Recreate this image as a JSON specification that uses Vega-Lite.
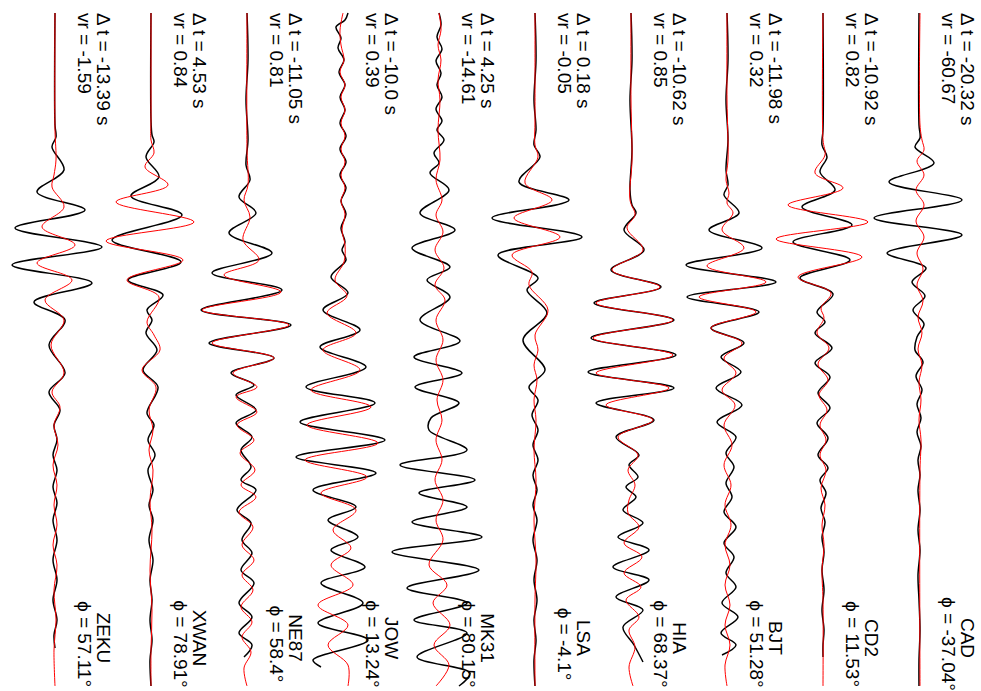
{
"$schema":"https://vega.github.io/schema/vega-lite/v6.json",
"padding":{"left":0,"top":0,"right":22,"bottom":0},
"background":"white",
"bounds":"flush",
"config":{"view":{"stroke":null},"facet":{"spacing":0}},
"spacing":0,
"data":{"values":[
{"s":"CAD","c":"L","dt":"Δ t = -20.32 s","vr":"vr = -60.67","nm":"CAD","ph":"ϕ = -37.04°"},
{"s":"CD2","c":"L","dt":"Δ t = -10.92 s","vr":"vr = 0.82","nm":"CD2","ph":"ϕ = 11.53°"},
{"s":"BJT","c":"L","dt":"Δ t = -11.98 s","vr":"vr = 0.32","nm":"BJT","ph":"ϕ = 51.28°"},
{"s":"HIA","c":"L","dt":"Δ t = -10.62 s","vr":"vr = 0.85","nm":"HIA","ph":"ϕ = 68.37°"},
{"s":"LSA","c":"L","dt":"Δ t = 0.18 s","vr":"vr = -0.05","nm":"LSA","ph":"ϕ = -4.1°"},
{"s":"MK31","c":"L","dt":"Δ t = 4.25 s","vr":"vr = -14.61","nm":"MK31","ph":"ϕ = 80.15°"},
{"s":"JOW","c":"L","dt":"Δ t = -10.0 s","vr":"vr = 0.39","nm":"JOW","ph":"ϕ = 13.24°"},
{"s":"NE87","c":"L","dt":"Δ t = -11.05 s","vr":"vr = 0.81","nm":"NE87","ph":"ϕ = 58.4°"},
{"s":"XWAN","c":"L","dt":"Δ t = 4.53 s","vr":"vr = 0.84","nm":"XWAN","ph":"ϕ = 78.91°"},
{"s":"ZEKU","c":"L","dt":"Δ t = -13.39 s","vr":"vr = -1.59","nm":"ZEKU","ph":"ϕ = 57.11°"},
{"s":"CAD","c":"k","t":13,"a":0},{"s":"CAD","c":"k","t":125,"a":0},{"s":"CAD","c":"k","t":138,"a":1},{"s":"CAD","c":"k","t":147,"a":-4},{"s":"CAD","c":"k","t":163,"a":15},{"s":"CAD","c":"k","t":182,"a":-30},{"s":"CAD","c":"k","t":200,"a":43},{"s":"CAD","c":"k","t":218,"a":-45},{"s":"CAD","c":"k","t":235,"a":43},{"s":"CAD","c":"k","t":253,"a":-32},{"s":"CAD","c":"k","t":268,"a":7},{"s":"CAD","c":"k","t":282,"a":-7},{"s":"CAD","c":"k","t":296,"a":6},{"s":"CAD","c":"k","t":310,"a":-6},{"s":"CAD","c":"k","t":324,"a":5},{"s":"CAD","c":"k","t":337,"a":-2},{"s":"CAD","c":"k","t":350,"a":-4},{"s":"CAD","c":"k","t":362,"a":4},{"s":"CAD","c":"k","t":376,"a":-3},{"s":"CAD","c":"k","t":390,"a":3},{"s":"CAD","c":"k","t":404,"a":-2},{"s":"CAD","c":"k","t":418,"a":2},{"s":"CAD","c":"k","t":432,"a":-2},{"s":"CAD","c":"k","t":446,"a":2},{"s":"CAD","c":"k","t":460,"a":-1},{"s":"CAD","c":"k","t":475,"a":1},{"s":"CAD","c":"k","t":490,"a":-1},{"s":"CAD","c":"k","t":510,"a":1},{"s":"CAD","c":"k","t":530,"a":-1},{"s":"CAD","c":"k","t":550,"a":1},{"s":"CAD","c":"k","t":575,"a":-1},{"s":"CAD","c":"k","t":600,"a":0},{"s":"CAD","c":"k","t":630,"a":1},{"s":"CAD","c":"k","t":660,"a":0},{"s":"CAD","c":"k","t":686,"a":0},
{"s":"CAD","c":"r","t":13,"a":1},{"s":"CAD","c":"r","t":125,"a":1},{"s":"CAD","c":"r","t":140,"a":3},{"s":"CAD","c":"r","t":150,"a":5},{"s":"CAD","c":"r","t":161,"a":-2},{"s":"CAD","c":"r","t":175,"a":5},{"s":"CAD","c":"r","t":190,"a":-3},{"s":"CAD","c":"r","t":205,"a":5},{"s":"CAD","c":"r","t":221,"a":-3},{"s":"CAD","c":"r","t":237,"a":5},{"s":"CAD","c":"r","t":253,"a":-2},{"s":"CAD","c":"r","t":269,"a":4},{"s":"CAD","c":"r","t":285,"a":-2},{"s":"CAD","c":"r","t":301,"a":4},{"s":"CAD","c":"r","t":317,"a":-1},{"s":"CAD","c":"r","t":333,"a":3},{"s":"CAD","c":"r","t":349,"a":-1},{"s":"CAD","c":"r","t":365,"a":3},{"s":"CAD","c":"r","t":382,"a":0},{"s":"CAD","c":"r","t":400,"a":2},{"s":"CAD","c":"r","t":420,"a":0},{"s":"CAD","c":"r","t":440,"a":2},{"s":"CAD","c":"r","t":470,"a":1},{"s":"CAD","c":"r","t":686,"a":1},
{"s":"CD2","c":"k","t":13,"a":0},{"s":"CD2","c":"k","t":130,"a":0},{"s":"CD2","c":"k","t":145,"a":-1},{"s":"CD2","c":"k","t":157,"a":4},{"s":"CD2","c":"k","t":172,"a":-3},{"s":"CD2","c":"k","t":190,"a":12},{"s":"CD2","c":"k","t":207,"a":-21},{"s":"CD2","c":"k","t":225,"a":29},{"s":"CD2","c":"k","t":242,"a":-30},{"s":"CD2","c":"k","t":260,"a":27},{"s":"CD2","c":"k","t":278,"a":-23},{"s":"CD2","c":"k","t":294,"a":10},{"s":"CD2","c":"k","t":312,"a":-6},{"s":"CD2","c":"k","t":322,"a":2},{"s":"CD2","c":"k","t":333,"a":-8},{"s":"CD2","c":"k","t":348,"a":9},{"s":"CD2","c":"k","t":363,"a":-8},{"s":"CD2","c":"k","t":377,"a":7},{"s":"CD2","c":"k","t":393,"a":-5},{"s":"CD2","c":"k","t":408,"a":7},{"s":"CD2","c":"k","t":423,"a":-6},{"s":"CD2","c":"k","t":438,"a":5},{"s":"CD2","c":"k","t":455,"a":-5},{"s":"CD2","c":"k","t":468,"a":5},{"s":"CD2","c":"k","t":480,"a":-3},{"s":"CD2","c":"k","t":493,"a":3},{"s":"CD2","c":"k","t":508,"a":-2},{"s":"CD2","c":"k","t":522,"a":2},{"s":"CD2","c":"k","t":537,"a":-1},{"s":"CD2","c":"k","t":552,"a":1},{"s":"CD2","c":"k","t":570,"a":-1},{"s":"CD2","c":"k","t":590,"a":1},{"s":"CD2","c":"k","t":610,"a":-1},{"s":"CD2","c":"k","t":630,"a":1},{"s":"CD2","c":"k","t":645,"a":0},{"s":"CD2","c":"k","t":657,"a":0},
{"s":"CD2","c":"r","t":13,"a":0},{"s":"CD2","c":"r","t":140,"a":0},{"s":"CD2","c":"r","t":155,"a":2},{"s":"CD2","c":"r","t":173,"a":-8},{"s":"CD2","c":"r","t":188,"a":20},{"s":"CD2","c":"r","t":205,"a":-35},{"s":"CD2","c":"r","t":222,"a":45},{"s":"CD2","c":"r","t":239,"a":-47},{"s":"CD2","c":"r","t":257,"a":39},{"s":"CD2","c":"r","t":277,"a":-25},{"s":"CD2","c":"r","t":293,"a":8},{"s":"CD2","c":"r","t":308,"a":-2},{"s":"CD2","c":"r","t":318,"a":1},{"s":"CD2","c":"r","t":333,"a":-6},{"s":"CD2","c":"r","t":348,"a":6},{"s":"CD2","c":"r","t":364,"a":-5},{"s":"CD2","c":"r","t":380,"a":5},{"s":"CD2","c":"r","t":395,"a":-4},{"s":"CD2","c":"r","t":410,"a":4},{"s":"CD2","c":"r","t":425,"a":-3},{"s":"CD2","c":"r","t":440,"a":3},{"s":"CD2","c":"r","t":455,"a":-3},{"s":"CD2","c":"r","t":470,"a":3},{"s":"CD2","c":"r","t":488,"a":-2},{"s":"CD2","c":"r","t":505,"a":2},{"s":"CD2","c":"r","t":525,"a":-1},{"s":"CD2","c":"r","t":545,"a":1},{"s":"CD2","c":"r","t":570,"a":-1},{"s":"CD2","c":"r","t":600,"a":0},{"s":"CD2","c":"r","t":686,"a":0},
{"s":"BJT","c":"k","t":13,"a":0},{"s":"BJT","c":"k","t":60,"a":1},{"s":"BJT","c":"k","t":100,"a":-1},{"s":"BJT","c":"k","t":140,"a":1},{"s":"BJT","c":"k","t":170,"a":-1},{"s":"BJT","c":"k","t":185,"a":1},{"s":"BJT","c":"k","t":195,"a":-3},{"s":"BJT","c":"k","t":213,"a":12},{"s":"BJT","c":"k","t":230,"a":-18},{"s":"BJT","c":"k","t":248,"a":35},{"s":"BJT","c":"k","t":265,"a":-41},{"s":"BJT","c":"k","t":282,"a":49},{"s":"BJT","c":"k","t":297,"a":-40},{"s":"BJT","c":"k","t":312,"a":32},{"s":"BJT","c":"k","t":328,"a":-16},{"s":"BJT","c":"k","t":343,"a":17},{"s":"BJT","c":"k","t":357,"a":-6},{"s":"BJT","c":"k","t":372,"a":14},{"s":"BJT","c":"k","t":388,"a":-11},{"s":"BJT","c":"k","t":405,"a":15},{"s":"BJT","c":"k","t":422,"a":-10},{"s":"BJT","c":"k","t":437,"a":9},{"s":"BJT","c":"k","t":453,"a":-1},{"s":"BJT","c":"k","t":467,"a":7},{"s":"BJT","c":"k","t":483,"a":-1},{"s":"BJT","c":"k","t":497,"a":5},{"s":"BJT","c":"k","t":512,"a":-3},{"s":"BJT","c":"k","t":527,"a":9},{"s":"BJT","c":"k","t":543,"a":-3},{"s":"BJT","c":"k","t":557,"a":7},{"s":"BJT","c":"k","t":573,"a":-1},{"s":"BJT","c":"k","t":587,"a":9},{"s":"BJT","c":"k","t":603,"a":-5},{"s":"BJT","c":"k","t":617,"a":11},{"s":"BJT","c":"k","t":633,"a":-6},{"s":"BJT","c":"k","t":645,"a":9},{"s":"BJT","c":"k","t":655,"a":-5},
{"s":"BJT","c":"r","t":13,"a":0},{"s":"BJT","c":"r","t":100,"a":0},{"s":"BJT","c":"r","t":160,"a":1},{"s":"BJT","c":"r","t":180,"a":-1},{"s":"BJT","c":"r","t":193,"a":2},{"s":"BJT","c":"r","t":203,"a":0},{"s":"BJT","c":"r","t":213,"a":6},{"s":"BJT","c":"r","t":230,"a":-5},{"s":"BJT","c":"r","t":248,"a":17},{"s":"BJT","c":"r","t":266,"a":-20},{"s":"BJT","c":"r","t":282,"a":39},{"s":"BJT","c":"r","t":297,"a":-28},{"s":"BJT","c":"r","t":312,"a":29},{"s":"BJT","c":"r","t":328,"a":-16},{"s":"BJT","c":"r","t":343,"a":15},{"s":"BJT","c":"r","t":358,"a":-3},{"s":"BJT","c":"r","t":373,"a":9},{"s":"BJT","c":"r","t":390,"a":-5},{"s":"BJT","c":"r","t":405,"a":8},{"s":"BJT","c":"r","t":425,"a":-3},{"s":"BJT","c":"r","t":445,"a":5},{"s":"BJT","c":"r","t":465,"a":-3},{"s":"BJT","c":"r","t":485,"a":4},{"s":"BJT","c":"r","t":505,"a":-2},{"s":"BJT","c":"r","t":525,"a":4},{"s":"BJT","c":"r","t":545,"a":-2},{"s":"BJT","c":"r","t":565,"a":3},{"s":"BJT","c":"r","t":585,"a":-2},{"s":"BJT","c":"r","t":605,"a":3},{"s":"BJT","c":"r","t":625,"a":-2},{"s":"BJT","c":"r","t":645,"a":3},{"s":"BJT","c":"r","t":665,"a":-2},{"s":"BJT","c":"r","t":686,"a":0},
{"s":"HIA","c":"k","t":13,"a":0},{"s":"HIA","c":"k","t":60,"a":1},{"s":"HIA","c":"k","t":100,"a":-1},{"s":"HIA","c":"k","t":150,"a":1},{"s":"HIA","c":"k","t":190,"a":-1},{"s":"HIA","c":"k","t":205,"a":1},{"s":"HIA","c":"k","t":213,"a":5},{"s":"HIA","c":"k","t":230,"a":-7},{"s":"HIA","c":"k","t":250,"a":13},{"s":"HIA","c":"k","t":270,"a":-20},{"s":"HIA","c":"k","t":287,"a":30},{"s":"HIA","c":"k","t":303,"a":-37},{"s":"HIA","c":"k","t":320,"a":43},{"s":"HIA","c":"k","t":338,"a":-40},{"s":"HIA","c":"k","t":355,"a":45},{"s":"HIA","c":"k","t":372,"a":-43},{"s":"HIA","c":"k","t":388,"a":43},{"s":"HIA","c":"k","t":403,"a":-35},{"s":"HIA","c":"k","t":420,"a":23},{"s":"HIA","c":"k","t":437,"a":-15},{"s":"HIA","c":"k","t":455,"a":8},{"s":"HIA","c":"k","t":465,"a":-2},{"s":"HIA","c":"k","t":477,"a":7},{"s":"HIA","c":"k","t":487,"a":-5},{"s":"HIA","c":"k","t":497,"a":5},{"s":"HIA","c":"k","t":510,"a":-8},{"s":"HIA","c":"k","t":523,"a":12},{"s":"HIA","c":"k","t":537,"a":-13},{"s":"HIA","c":"k","t":550,"a":18},{"s":"HIA","c":"k","t":567,"a":-18},{"s":"HIA","c":"k","t":580,"a":18},{"s":"HIA","c":"k","t":597,"a":-15},{"s":"HIA","c":"k","t":610,"a":12},{"s":"HIA","c":"k","t":627,"a":-8},{"s":"HIA","c":"k","t":645,"a":3},{"s":"HIA","c":"k","t":662,"a":12},
{"s":"HIA","c":"r","t":13,"a":0},{"s":"HIA","c":"r","t":100,"a":0},{"s":"HIA","c":"r","t":160,"a":1},{"s":"HIA","c":"r","t":200,"a":-1},{"s":"HIA","c":"r","t":215,"a":4},{"s":"HIA","c":"r","t":228,"a":-4},{"s":"HIA","c":"r","t":250,"a":12},{"s":"HIA","c":"r","t":270,"a":-19},{"s":"HIA","c":"r","t":287,"a":29},{"s":"HIA","c":"r","t":303,"a":-35},{"s":"HIA","c":"r","t":320,"a":42},{"s":"HIA","c":"r","t":338,"a":-38},{"s":"HIA","c":"r","t":355,"a":42},{"s":"HIA","c":"r","t":373,"a":-35},{"s":"HIA","c":"r","t":388,"a":38},{"s":"HIA","c":"r","t":405,"a":-25},{"s":"HIA","c":"r","t":420,"a":22},{"s":"HIA","c":"r","t":437,"a":-13},{"s":"HIA","c":"r","t":455,"a":7},{"s":"HIA","c":"r","t":470,"a":-3},{"s":"HIA","c":"r","t":485,"a":4},{"s":"HIA","c":"r","t":500,"a":-2},{"s":"HIA","c":"r","t":513,"a":-3},{"s":"HIA","c":"r","t":527,"a":8},{"s":"HIA","c":"r","t":543,"a":-7},{"s":"HIA","c":"r","t":557,"a":11},{"s":"HIA","c":"r","t":573,"a":-7},{"s":"HIA","c":"r","t":587,"a":10},{"s":"HIA","c":"r","t":600,"a":-5},{"s":"HIA","c":"r","t":617,"a":8},{"s":"HIA","c":"r","t":630,"a":-2},{"s":"HIA","c":"r","t":647,"a":4},{"s":"HIA","c":"r","t":667,"a":-2},{"s":"HIA","c":"r","t":686,"a":2},
{"s":"LSA","c":"k","t":13,"a":0},{"s":"LSA","c":"k","t":60,"a":1},{"s":"LSA","c":"k","t":100,"a":-1},{"s":"LSA","c":"k","t":130,"a":1},{"s":"LSA","c":"k","t":145,"a":-1},{"s":"LSA","c":"k","t":157,"a":5},{"s":"LSA","c":"k","t":182,"a":-16},{"s":"LSA","c":"k","t":200,"a":34},{"s":"LSA","c":"k","t":218,"a":-43},{"s":"LSA","c":"k","t":237,"a":47},{"s":"LSA","c":"k","t":255,"a":-37},{"s":"LSA","c":"k","t":278,"a":3},{"s":"LSA","c":"k","t":290,"a":-8},{"s":"LSA","c":"k","t":313,"a":12},{"s":"LSA","c":"k","t":340,"a":-12},{"s":"LSA","c":"k","t":370,"a":10},{"s":"LSA","c":"k","t":387,"a":-6},{"s":"LSA","c":"k","t":400,"a":3},{"s":"LSA","c":"k","t":415,"a":-3},{"s":"LSA","c":"k","t":430,"a":3},{"s":"LSA","c":"k","t":445,"a":-2},{"s":"LSA","c":"k","t":460,"a":3},{"s":"LSA","c":"k","t":475,"a":-2},{"s":"LSA","c":"k","t":490,"a":2},{"s":"LSA","c":"k","t":505,"a":-2},{"s":"LSA","c":"k","t":520,"a":2},{"s":"LSA","c":"k","t":540,"a":-2},{"s":"LSA","c":"k","t":560,"a":2},{"s":"LSA","c":"k","t":580,"a":-1},{"s":"LSA","c":"k","t":600,"a":2},{"s":"LSA","c":"k","t":620,"a":-1},{"s":"LSA","c":"k","t":640,"a":1},{"s":"LSA","c":"k","t":660,"a":-1},{"s":"LSA","c":"k","t":686,"a":0},
{"s":"LSA","c":"r","t":13,"a":0},{"s":"LSA","c":"r","t":120,"a":0},{"s":"LSA","c":"r","t":145,"a":0},{"s":"LSA","c":"r","t":157,"a":3},{"s":"LSA","c":"r","t":183,"a":-10},{"s":"LSA","c":"r","t":200,"a":17},{"s":"LSA","c":"r","t":218,"a":-21},{"s":"LSA","c":"r","t":237,"a":25},{"s":"LSA","c":"r","t":255,"a":-23},{"s":"LSA","c":"r","t":272,"a":-3},{"s":"LSA","c":"r","t":285,"a":-6},{"s":"LSA","c":"r","t":310,"a":13},{"s":"LSA","c":"r","t":335,"a":0},{"s":"LSA","c":"r","t":350,"a":3},{"s":"LSA","c":"r","t":365,"a":-1},{"s":"LSA","c":"r","t":380,"a":2},{"s":"LSA","c":"r","t":400,"a":-1},{"s":"LSA","c":"r","t":420,"a":1},{"s":"LSA","c":"r","t":450,"a":-1},{"s":"LSA","c":"r","t":480,"a":1},{"s":"LSA","c":"r","t":520,"a":-1},{"s":"LSA","c":"r","t":560,"a":1},{"s":"LSA","c":"r","t":600,"a":0},{"s":"LSA","c":"r","t":686,"a":0},
{"s":"MK31","c":"k","t":13,"a":0},{"s":"MK31","c":"k","t":25,"a":2},{"s":"MK31","c":"k","t":37,"a":-2},{"s":"MK31","c":"k","t":49,"a":3},{"s":"MK31","c":"k","t":61,"a":-3},{"s":"MK31","c":"k","t":73,"a":2},{"s":"MK31","c":"k","t":85,"a":-2},{"s":"MK31","c":"k","t":97,"a":3},{"s":"MK31","c":"k","t":109,"a":-3},{"s":"MK31","c":"k","t":121,"a":3},{"s":"MK31","c":"k","t":130,"a":-2},{"s":"MK31","c":"k","t":140,"a":5},{"s":"MK31","c":"k","t":153,"a":-5},{"s":"MK31","c":"k","t":163,"a":0},{"s":"MK31","c":"k","t":173,"a":-9},{"s":"MK31","c":"k","t":190,"a":10},{"s":"MK31","c":"k","t":213,"a":-19},{"s":"MK31","c":"k","t":230,"a":16},{"s":"MK31","c":"k","t":248,"a":-27},{"s":"MK31","c":"k","t":267,"a":11},{"s":"MK31","c":"k","t":280,"a":-12},{"s":"MK31","c":"k","t":297,"a":11},{"s":"MK31","c":"k","t":320,"a":-19},{"s":"MK31","c":"k","t":341,"a":21},{"s":"MK31","c":"k","t":357,"a":-25},{"s":"MK31","c":"k","t":373,"a":23},{"s":"MK31","c":"k","t":387,"a":-24},{"s":"MK31","c":"k","t":403,"a":20},{"s":"MK31","c":"k","t":418,"a":-8},{"s":"MK31","c":"k","t":430,"a":-10},{"s":"MK31","c":"k","t":450,"a":28},{"s":"MK31","c":"k","t":465,"a":-39},{"s":"MK31","c":"k","t":480,"a":36},{"s":"MK31","c":"k","t":493,"a":-20},{"s":"MK31","c":"k","t":507,"a":28},{"s":"MK31","c":"k","t":522,"a":-27},{"s":"MK31","c":"k","t":537,"a":43},{"s":"MK31","c":"k","t":552,"a":-47},{"s":"MK31","c":"k","t":570,"a":40},{"s":"MK31","c":"k","t":588,"a":-32},{"s":"MK31","c":"k","t":603,"a":28},{"s":"MK31","c":"k","t":620,"a":-25},{"s":"MK31","c":"k","t":633,"a":28},{"s":"MK31","c":"k","t":657,"a":-22},{"s":"MK31","c":"k","t":673,"a":31},{"s":"MK31","c":"k","t":686,"a":20},
{"s":"MK31","c":"r","t":13,"a":0},{"s":"MK31","c":"r","t":30,"a":2},{"s":"MK31","c":"r","t":45,"a":-1},{"s":"MK31","c":"r","t":60,"a":2},{"s":"MK31","c":"r","t":80,"a":-1},{"s":"MK31","c":"r","t":100,"a":1},{"s":"MK31","c":"r","t":130,"a":-1},{"s":"MK31","c":"r","t":160,"a":1},{"s":"MK31","c":"r","t":180,"a":-3},{"s":"MK31","c":"r","t":200,"a":3},{"s":"MK31","c":"r","t":215,"a":-3},{"s":"MK31","c":"r","t":232,"a":4},{"s":"MK31","c":"r","t":250,"a":-4},{"s":"MK31","c":"r","t":268,"a":5},{"s":"MK31","c":"r","t":285,"a":-4},{"s":"MK31","c":"r","t":300,"a":6},{"s":"MK31","c":"r","t":320,"a":-3},{"s":"MK31","c":"r","t":340,"a":4},{"s":"MK31","c":"r","t":360,"a":-3},{"s":"MK31","c":"r","t":380,"a":4},{"s":"MK31","c":"r","t":400,"a":-2},{"s":"MK31","c":"r","t":420,"a":3},{"s":"MK31","c":"r","t":440,"a":-3},{"s":"MK31","c":"r","t":460,"a":3},{"s":"MK31","c":"r","t":480,"a":-4},{"s":"MK31","c":"r","t":500,"a":4},{"s":"MK31","c":"r","t":520,"a":-3},{"s":"MK31","c":"r","t":540,"a":4},{"s":"MK31","c":"r","t":565,"a":-10},{"s":"MK31","c":"r","t":585,"a":8},{"s":"MK31","c":"r","t":603,"a":-6},{"s":"MK31","c":"r","t":625,"a":11},{"s":"MK31","c":"r","t":645,"a":-5},{"s":"MK31","c":"r","t":665,"a":10},{"s":"MK31","c":"r","t":686,"a":-3},
{"s":"JOW","c":"k","t":13,"a":5},{"s":"JOW","c":"k","t":20,"a":2},{"s":"JOW","c":"k","t":27,"a":-7},{"s":"JOW","c":"k","t":38,"a":-2},{"s":"JOW","c":"k","t":48,"a":-5},{"s":"JOW","c":"k","t":60,"a":1},{"s":"JOW","c":"k","t":72,"a":-4},{"s":"JOW","c":"k","t":85,"a":2},{"s":"JOW","c":"k","t":97,"a":-3},{"s":"JOW","c":"k","t":110,"a":2},{"s":"JOW","c":"k","t":123,"a":-3},{"s":"JOW","c":"k","t":136,"a":3},{"s":"JOW","c":"k","t":149,"a":-3},{"s":"JOW","c":"k","t":162,"a":3},{"s":"JOW","c":"k","t":175,"a":-3},{"s":"JOW","c":"k","t":188,"a":3},{"s":"JOW","c":"k","t":201,"a":-2},{"s":"JOW","c":"k","t":214,"a":3},{"s":"JOW","c":"k","t":228,"a":-2},{"s":"JOW","c":"k","t":242,"a":2},{"s":"JOW","c":"k","t":250,"a":-1},{"s":"JOW","c":"k","t":260,"a":3},{"s":"JOW","c":"k","t":277,"a":-12},{"s":"JOW","c":"k","t":293,"a":5},{"s":"JOW","c":"k","t":310,"a":-20},{"s":"JOW","c":"k","t":330,"a":17},{"s":"JOW","c":"k","t":347,"a":-23},{"s":"JOW","c":"k","t":367,"a":23},{"s":"JOW","c":"k","t":387,"a":-37},{"s":"JOW","c":"k","t":403,"a":32},{"s":"JOW","c":"k","t":422,"a":-43},{"s":"JOW","c":"k","t":440,"a":42},{"s":"JOW","c":"k","t":457,"a":-47},{"s":"JOW","c":"k","t":473,"a":33},{"s":"JOW","c":"k","t":490,"a":-30},{"s":"JOW","c":"k","t":507,"a":13},{"s":"JOW","c":"k","t":520,"a":-15},{"s":"JOW","c":"k","t":537,"a":15},{"s":"JOW","c":"k","t":550,"a":-12},{"s":"JOW","c":"k","t":567,"a":22},{"s":"JOW","c":"k","t":583,"a":-22},{"s":"JOW","c":"k","t":603,"a":20},{"s":"JOW","c":"k","t":623,"a":-25},{"s":"JOW","c":"k","t":640,"a":25},{"s":"JOW","c":"k","t":660,"a":-30},{"s":"JOW","c":"k","t":667,"a":-22},
{"s":"JOW","c":"r","t":13,"a":0},{"s":"JOW","c":"r","t":30,"a":-3},{"s":"JOW","c":"r","t":45,"a":-2},{"s":"JOW","c":"r","t":60,"a":1},{"s":"JOW","c":"r","t":72,"a":-3},{"s":"JOW","c":"r","t":85,"a":2},{"s":"JOW","c":"r","t":97,"a":-2},{"s":"JOW","c":"r","t":110,"a":2},{"s":"JOW","c":"r","t":123,"a":-2},{"s":"JOW","c":"r","t":136,"a":2},{"s":"JOW","c":"r","t":149,"a":-2},{"s":"JOW","c":"r","t":162,"a":2},{"s":"JOW","c":"r","t":175,"a":-2},{"s":"JOW","c":"r","t":188,"a":2},{"s":"JOW","c":"r","t":201,"a":-2},{"s":"JOW","c":"r","t":214,"a":2},{"s":"JOW","c":"r","t":230,"a":-1},{"s":"JOW","c":"r","t":245,"a":2},{"s":"JOW","c":"r","t":262,"a":1},{"s":"JOW","c":"r","t":280,"a":-8},{"s":"JOW","c":"r","t":296,"a":4},{"s":"JOW","c":"r","t":313,"a":-16},{"s":"JOW","c":"r","t":333,"a":13},{"s":"JOW","c":"r","t":350,"a":-20},{"s":"JOW","c":"r","t":370,"a":17},{"s":"JOW","c":"r","t":390,"a":-32},{"s":"JOW","c":"r","t":407,"a":28},{"s":"JOW","c":"r","t":425,"a":-36},{"s":"JOW","c":"r","t":443,"a":35},{"s":"JOW","c":"r","t":460,"a":-38},{"s":"JOW","c":"r","t":477,"a":24},{"s":"JOW","c":"r","t":493,"a":-22},{"s":"JOW","c":"r","t":510,"a":13},{"s":"JOW","c":"r","t":530,"a":-10},{"s":"JOW","c":"r","t":548,"a":8},{"s":"JOW","c":"r","t":565,"a":-12},{"s":"JOW","c":"r","t":585,"a":10},{"s":"JOW","c":"r","t":605,"a":-25},{"s":"JOW","c":"r","t":625,"a":5},{"s":"JOW","c":"r","t":645,"a":-15},{"s":"JOW","c":"r","t":665,"a":5},{"s":"JOW","c":"r","t":686,"a":5},
{"s":"NE87","c":"k","t":13,"a":0},{"s":"NE87","c":"k","t":60,"a":1},{"s":"NE87","c":"k","t":100,"a":-1},{"s":"NE87","c":"k","t":140,"a":1},{"s":"NE87","c":"k","t":165,"a":-1},{"s":"NE87","c":"k","t":180,"a":3},{"s":"NE87","c":"k","t":197,"a":-8},{"s":"NE87","c":"k","t":213,"a":9},{"s":"NE87","c":"k","t":233,"a":-18},{"s":"NE87","c":"k","t":253,"a":25},{"s":"NE87","c":"k","t":273,"a":-35},{"s":"NE87","c":"k","t":290,"a":35},{"s":"NE87","c":"k","t":310,"a":-46},{"s":"NE87","c":"k","t":325,"a":44},{"s":"NE87","c":"k","t":343,"a":-38},{"s":"NE87","c":"k","t":358,"a":27},{"s":"NE87","c":"k","t":373,"a":-16},{"s":"NE87","c":"k","t":385,"a":7},{"s":"NE87","c":"k","t":395,"a":-11},{"s":"NE87","c":"k","t":410,"a":9},{"s":"NE87","c":"k","t":423,"a":-11},{"s":"NE87","c":"k","t":437,"a":5},{"s":"NE87","c":"k","t":450,"a":-6},{"s":"NE87","c":"k","t":467,"a":4},{"s":"NE87","c":"k","t":480,"a":-6},{"s":"NE87","c":"k","t":490,"a":9},{"s":"NE87","c":"k","t":510,"a":-10},{"s":"NE87","c":"k","t":523,"a":4},{"s":"NE87","c":"k","t":540,"a":-5},{"s":"NE87","c":"k","t":553,"a":5},{"s":"NE87","c":"k","t":570,"a":-6},{"s":"NE87","c":"k","t":583,"a":7},{"s":"NE87","c":"k","t":603,"a":-8},{"s":"NE87","c":"k","t":617,"a":5},{"s":"NE87","c":"k","t":633,"a":-8},{"s":"NE87","c":"k","t":645,"a":5},{"s":"NE87","c":"k","t":657,"a":-3},
{"s":"NE87","c":"r","t":13,"a":0},{"s":"NE87","c":"r","t":150,"a":0},{"s":"NE87","c":"r","t":185,"a":1},{"s":"NE87","c":"r","t":200,"a":-3},{"s":"NE87","c":"r","t":217,"a":3},{"s":"NE87","c":"r","t":240,"a":-4},{"s":"NE87","c":"r","t":260,"a":12},{"s":"NE87","c":"r","t":275,"a":-23},{"s":"NE87","c":"r","t":292,"a":34},{"s":"NE87","c":"r","t":310,"a":-45},{"s":"NE87","c":"r","t":325,"a":42},{"s":"NE87","c":"r","t":343,"a":-35},{"s":"NE87","c":"r","t":358,"a":27},{"s":"NE87","c":"r","t":373,"a":-14},{"s":"NE87","c":"r","t":387,"a":10},{"s":"NE87","c":"r","t":397,"a":-11},{"s":"NE87","c":"r","t":412,"a":10},{"s":"NE87","c":"r","t":425,"a":-10},{"s":"NE87","c":"r","t":440,"a":7},{"s":"NE87","c":"r","t":453,"a":-7},{"s":"NE87","c":"r","t":470,"a":8},{"s":"NE87","c":"r","t":485,"a":-6},{"s":"NE87","c":"r","t":497,"a":9},{"s":"NE87","c":"r","t":512,"a":-8},{"s":"NE87","c":"r","t":527,"a":6},{"s":"NE87","c":"r","t":545,"a":-5},{"s":"NE87","c":"r","t":560,"a":7},{"s":"NE87","c":"r","t":575,"a":-5},{"s":"NE87","c":"r","t":590,"a":6},{"s":"NE87","c":"r","t":607,"a":-6},{"s":"NE87","c":"r","t":622,"a":5},{"s":"NE87","c":"r","t":637,"a":-5},{"s":"NE87","c":"r","t":652,"a":4},{"s":"NE87","c":"r","t":668,"a":-3},{"s":"NE87","c":"r","t":686,"a":0},
{"s":"XWAN","c":"k","t":13,"a":0},{"s":"XWAN","c":"k","t":120,"a":0},{"s":"XWAN","c":"k","t":135,"a":1},{"s":"XWAN","c":"k","t":142,"a":3},{"s":"XWAN","c":"k","t":157,"a":-5},{"s":"XWAN","c":"k","t":177,"a":8},{"s":"XWAN","c":"k","t":196,"a":-20},{"s":"XWAN","c":"k","t":215,"a":31},{"s":"XWAN","c":"k","t":240,"a":-39},{"s":"XWAN","c":"k","t":262,"a":30},{"s":"XWAN","c":"k","t":280,"a":-23},{"s":"XWAN","c":"k","t":295,"a":12},{"s":"XWAN","c":"k","t":310,"a":-4},{"s":"XWAN","c":"k","t":320,"a":1},{"s":"XWAN","c":"k","t":333,"a":-5},{"s":"XWAN","c":"k","t":350,"a":6},{"s":"XWAN","c":"k","t":370,"a":-8},{"s":"XWAN","c":"k","t":387,"a":7},{"s":"XWAN","c":"k","t":413,"a":-4},{"s":"XWAN","c":"k","t":425,"a":3},{"s":"XWAN","c":"k","t":440,"a":-3},{"s":"XWAN","c":"k","t":455,"a":4},{"s":"XWAN","c":"k","t":470,"a":-3},{"s":"XWAN","c":"k","t":490,"a":2},{"s":"XWAN","c":"k","t":505,"a":-2},{"s":"XWAN","c":"k","t":520,"a":2},{"s":"XWAN","c":"k","t":540,"a":-2},{"s":"XWAN","c":"k","t":560,"a":2},{"s":"XWAN","c":"k","t":580,"a":-1},{"s":"XWAN","c":"k","t":600,"a":1},{"s":"XWAN","c":"k","t":620,"a":-1},{"s":"XWAN","c":"k","t":640,"a":1},{"s":"XWAN","c":"k","t":660,"a":-1},{"s":"XWAN","c":"k","t":686,"a":0},
{"s":"XWAN","c":"r","t":13,"a":0},{"s":"XWAN","c":"r","t":120,"a":0},{"s":"XWAN","c":"r","t":140,"a":0},{"s":"XWAN","c":"r","t":153,"a":3},{"s":"XWAN","c":"r","t":167,"a":-6},{"s":"XWAN","c":"r","t":185,"a":17},{"s":"XWAN","c":"r","t":202,"a":-35},{"s":"XWAN","c":"r","t":222,"a":43},{"s":"XWAN","c":"r","t":241,"a":-45},{"s":"XWAN","c":"r","t":260,"a":32},{"s":"XWAN","c":"r","t":280,"a":-24},{"s":"XWAN","c":"r","t":297,"a":8},{"s":"XWAN","c":"r","t":322,"a":-4},{"s":"XWAN","c":"r","t":335,"a":3},{"s":"XWAN","c":"r","t":350,"a":9},{"s":"XWAN","c":"r","t":370,"a":-9},{"s":"XWAN","c":"r","t":387,"a":5},{"s":"XWAN","c":"r","t":410,"a":-2},{"s":"XWAN","c":"r","t":430,"a":2},{"s":"XWAN","c":"r","t":450,"a":-2},{"s":"XWAN","c":"r","t":470,"a":2},{"s":"XWAN","c":"r","t":500,"a":-1},{"s":"XWAN","c":"r","t":530,"a":1},{"s":"XWAN","c":"r","t":570,"a":-1},{"s":"XWAN","c":"r","t":610,"a":1},{"s":"XWAN","c":"r","t":650,"a":0},{"s":"XWAN","c":"r","t":686,"a":0},
{"s":"ZEKU","c":"k","t":13,"a":0},{"s":"ZEKU","c":"k","t":125,"a":0},{"s":"ZEKU","c":"k","t":137,"a":1},{"s":"ZEKU","c":"k","t":147,"a":-3},{"s":"ZEKU","c":"k","t":170,"a":9},{"s":"ZEKU","c":"k","t":192,"a":-18},{"s":"ZEKU","c":"k","t":210,"a":30},{"s":"ZEKU","c":"k","t":228,"a":-40},{"s":"ZEKU","c":"k","t":247,"a":47},{"s":"ZEKU","c":"k","t":265,"a":-43},{"s":"ZEKU","c":"k","t":283,"a":37},{"s":"ZEKU","c":"k","t":302,"a":-21},{"s":"ZEKU","c":"k","t":320,"a":10},{"s":"ZEKU","c":"k","t":345,"a":-6},{"s":"ZEKU","c":"k","t":373,"a":10},{"s":"ZEKU","c":"k","t":392,"a":-6},{"s":"ZEKU","c":"k","t":410,"a":5},{"s":"ZEKU","c":"k","t":425,"a":-1},{"s":"ZEKU","c":"k","t":440,"a":2},{"s":"ZEKU","c":"k","t":455,"a":-2},{"s":"ZEKU","c":"k","t":470,"a":2},{"s":"ZEKU","c":"k","t":487,"a":-2},{"s":"ZEKU","c":"k","t":503,"a":2},{"s":"ZEKU","c":"k","t":520,"a":-2},{"s":"ZEKU","c":"k","t":540,"a":2},{"s":"ZEKU","c":"k","t":560,"a":-2},{"s":"ZEKU","c":"k","t":580,"a":2},{"s":"ZEKU","c":"k","t":600,"a":-2},{"s":"ZEKU","c":"k","t":620,"a":2},{"s":"ZEKU","c":"k","t":635,"a":-1},{"s":"ZEKU","c":"k","t":648,"a":0},
{"s":"ZEKU","c":"r","t":13,"a":0},{"s":"ZEKU","c":"r","t":130,"a":0},{"s":"ZEKU","c":"r","t":160,"a":1},{"s":"ZEKU","c":"r","t":175,"a":-1},{"s":"ZEKU","c":"r","t":187,"a":-3},{"s":"ZEKU","c":"r","t":207,"a":9},{"s":"ZEKU","c":"r","t":227,"a":-13},{"s":"ZEKU","c":"r","t":245,"a":20},{"s":"ZEKU","c":"r","t":263,"a":-18},{"s":"ZEKU","c":"r","t":280,"a":17},{"s":"ZEKU","c":"r","t":300,"a":-10},{"s":"ZEKU","c":"r","t":320,"a":9},{"s":"ZEKU","c":"r","t":345,"a":-4},{"s":"ZEKU","c":"r","t":373,"a":9},{"s":"ZEKU","c":"r","t":392,"a":-3},{"s":"ZEKU","c":"r","t":407,"a":5},{"s":"ZEKU","c":"r","t":425,"a":-1},{"s":"ZEKU","c":"r","t":445,"a":3},{"s":"ZEKU","c":"r","t":465,"a":-2},{"s":"ZEKU","c":"r","t":485,"a":2},{"s":"ZEKU","c":"r","t":505,"a":-1},{"s":"ZEKU","c":"r","t":525,"a":2},{"s":"ZEKU","c":"r","t":545,"a":-2},{"s":"ZEKU","c":"r","t":565,"a":2},{"s":"ZEKU","c":"r","t":590,"a":-1},{"s":"ZEKU","c":"r","t":620,"a":1},{"s":"ZEKU","c":"r","t":650,"a":-1},{"s":"ZEKU","c":"r","t":686,"a":0}
]},
"facet":{"column":{"field":"s","type":"nominal","sort":["ZEKU","XWAN","NE87","JOW","MK31","LSA","HIA","BJT","CD2","CAD"],"header":null}},
"spec":{
"width":95.9,"height":691,
"layer":[
{"transform":[{"filter":"datum.c === 'k'"}],"mark":{"type":"line","interpolate":"catmull-rom","color":"black","strokeWidth":1.5},
 "encoding":{"x":{"field":"a","type":"quantitative","scale":{"domain":[-55,40.9],"nice":false,"zero":false},"axis":null},
 "y":{"field":"t","type":"quantitative","scale":{"domain":[0,691],"nice":false,"reverse":true},"axis":null},
 "order":{"field":"t","type":"quantitative"}}},
{"transform":[{"filter":"datum.c === 'r'"}],"mark":{"type":"line","interpolate":"catmull-rom","color":"#ff0000","strokeWidth":1},
 "encoding":{"x":{"field":"a","type":"quantitative","axis":null},
 "y":{"field":"t","type":"quantitative","axis":null},
 "order":{"field":"t","type":"quantitative"}}},
{"transform":[{"filter":"datum.c === 'L'"}],"mark":{"type":"text","angle":90,"align":"left","baseline":"alphabetic","fontSize":19,"font":"Liberation Sans","color":"black"},
 "encoding":{"x":{"datum":42},"y":{"datum":13},"text":{"field":"dt"}}},
{"transform":[{"filter":"datum.c === 'L'"}],"mark":{"type":"text","angle":90,"align":"left","baseline":"alphabetic","fontSize":19,"font":"Liberation Sans","color":"black"},
 "encoding":{"x":{"datum":23},"y":{"datum":13},"text":{"field":"vr"}}},
{"transform":[{"filter":"datum.c === 'L'"}],"mark":{"type":"text","angle":90,"align":"center","baseline":"alphabetic","fontSize":19,"font":"Liberation Sans","color":"black"},
 "encoding":{"x":{"datum":42},"y":{"datum":638},"text":{"field":"nm"}}},
{"transform":[{"filter":"datum.c === 'L'"}],"mark":{"type":"text","angle":90,"align":"center","baseline":"alphabetic","fontSize":19,"font":"Liberation Sans","color":"black"},
 "encoding":{"x":{"datum":23},"y":{"datum":644},"text":{"field":"ph"}}}
]}
}
